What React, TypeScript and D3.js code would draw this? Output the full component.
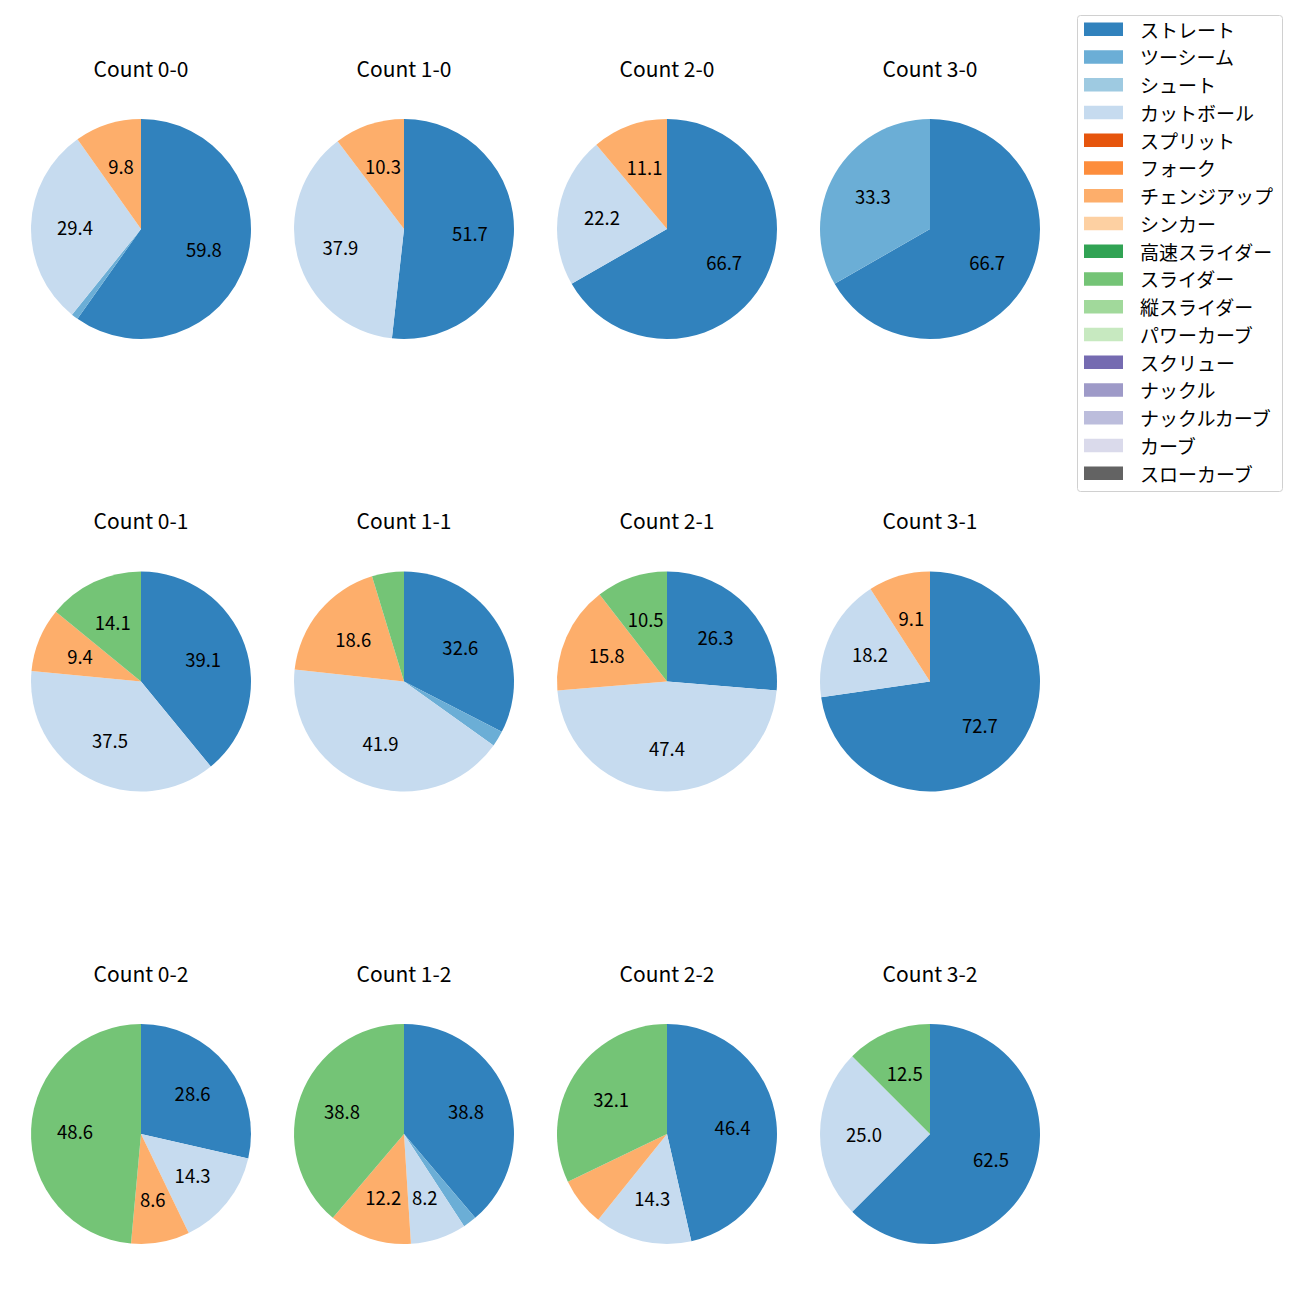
import React from "react";
import * as d3 from "d3";

const counts = ["0-0", "1-0", "2-0", "3-0", "0-1", "1-1", "2-1", "3-1", "0-2", "1-2", "2-2", "3-2"];
const pitchTypes = ["ストレート", "ツーシーム", "シュート", "カットボール", "スプリット", "フォーク", "チェンジアップ", "シンカー", "高速スライダー", "スライダー", "縦スライダー", "パワーカーブ", "スクリュー", "ナックル", "ナックルカーブ", "カーブ", "スローカーブ"];
const pitchColors = ["#3182bd", "#6baed6", "#9ecae1", "#c6dbef", "#e6550d", "#fd8d3c", "#fdae6b", "#fdd0a2", "#31a354", "#74c476", "#a1d99b", "#c7e9c0", "#756bb1", "#9e9ac8", "#bcbddc", "#dadaeb", "#636363"];

// percentages per count (same order as counts)
const straight = [59.8, 51.7, 66.7, 66.7, 39.1, 32.6, 26.3, 72.7, 28.6, 38.8, 46.4, 62.5];
const twoSeam = [1.0, 0, 0, 33.3, 0, 2.3, 0, 0, 0, 2.0, 0, 0];
const cutter = [29.4, 37.9, 22.2, 0, 37.5, 41.9, 47.4, 18.2, 14.3, 8.2, 14.3, 25.0];
const changeup = [9.8, 10.3, 11.1, 0, 9.4, 18.6, 15.8, 9.1, 8.6, 12.2, 7.1, 0];
const slider = [0, 0, 0, 0, 14.1, 4.7, 10.5, 0, 48.6, 38.8, 32.1, 12.5];

const seriesByType: Record<string, number[]> = {
  "ストレート": straight,
  "ツーシーム": twoSeam,
  "カットボール": cutter,
  "チェンジアップ": changeup,
  "スライダー": slider,
};

const FONT = "'Noto Sans CJK JP', 'Noto Sans', sans-serif";

export default function App() {
  const colX = d3.scaleLinear().domain([0, 3]).range([141, 930]);
  const rowY = d3.scaleLinear().domain([0, 2]).range([229, 1134]);
  const R = 110;
  const pie = d3
    .pie<{ type: string; value: number }>()
    .sort(null)
    .value((d) => d.value)
    .startAngle(0)
    .endAngle(2 * Math.PI);
  const arc = d3.arc<d3.PieArcDatum<{ type: string; value: number }>>().innerRadius(0).outerRadius(R);
  const labelArc = d3.arc<d3.PieArcDatum<{ type: string; value: number }>>().innerRadius(R * 0.6).outerRadius(R * 0.6);
  const color = d3.scaleOrdinal<string, string>().domain(pitchTypes).range(pitchColors);

  const legendY = d3.scaleLinear().domain([0, pitchTypes.length - 1]).range([29, 473]);

  return (
    <div style={{ position: "absolute", left: 0, top: 0 }}>
      <svg width={1300} height={1300} style={{ display: "block", background: "#fff" }} fontFamily={FONT}>
        <rect width={1300} height={1300} fill="#fff" />
        {counts.map((c, i) => {
          const balls = i % 4;
          const strikes = Math.floor(i / 4);
          const cx = colX(balls);
          const cy = rowY(strikes);
          const data = pitchTypes.map((t) => ({ type: t, value: seriesByType[t] ? seriesByType[t][i] : 0 }));
          const arcs = pie(data).filter((a) => a.data.value > 0);
          return (
            <g key={c}>
              <text x={cx} y={cy - 161.5} textAnchor="middle" dominantBaseline="central" fontSize={21} fill="#000">
                {`Count ${c}`}
              </text>
              <g transform={`translate(${cx},${cy})`}>
                {arcs.map((a) => (
                  <path key={a.data.type} d={arc(a) || ""} fill={color(a.data.type)} />
                ))}
                {arcs
                  .filter((a) => a.data.value >= 7.5)
                  .map((a) => {
                    const [lx, ly] = labelArc.centroid(a);
                    return (
                      <text key={a.data.type + "l"} x={lx} y={ly} textAnchor="middle" dominantBaseline="central" fontSize={18.5} fill="#000">
                        {a.data.value.toFixed(1)}
                      </text>
                    );
                  })}
              </g>
            </g>
          );
        })}
        <g>
          <rect x={1077.5} y={15.5} width={205} height={476} rx={3} fill="#fff" stroke="#d0d0d0" />
          {pitchTypes.map((t, k) => (
            <g key={t}>
              <rect x={1084} y={legendY(k) - 6.5} width={39} height={13.5} fill={color(t)} />
              <text x={1140} y={legendY(k)} dominantBaseline="central" fontSize={19} fill="#000">
                {t}
              </text>
            </g>
          ))}
        </g>
      </svg>
    </div>
  );
}
